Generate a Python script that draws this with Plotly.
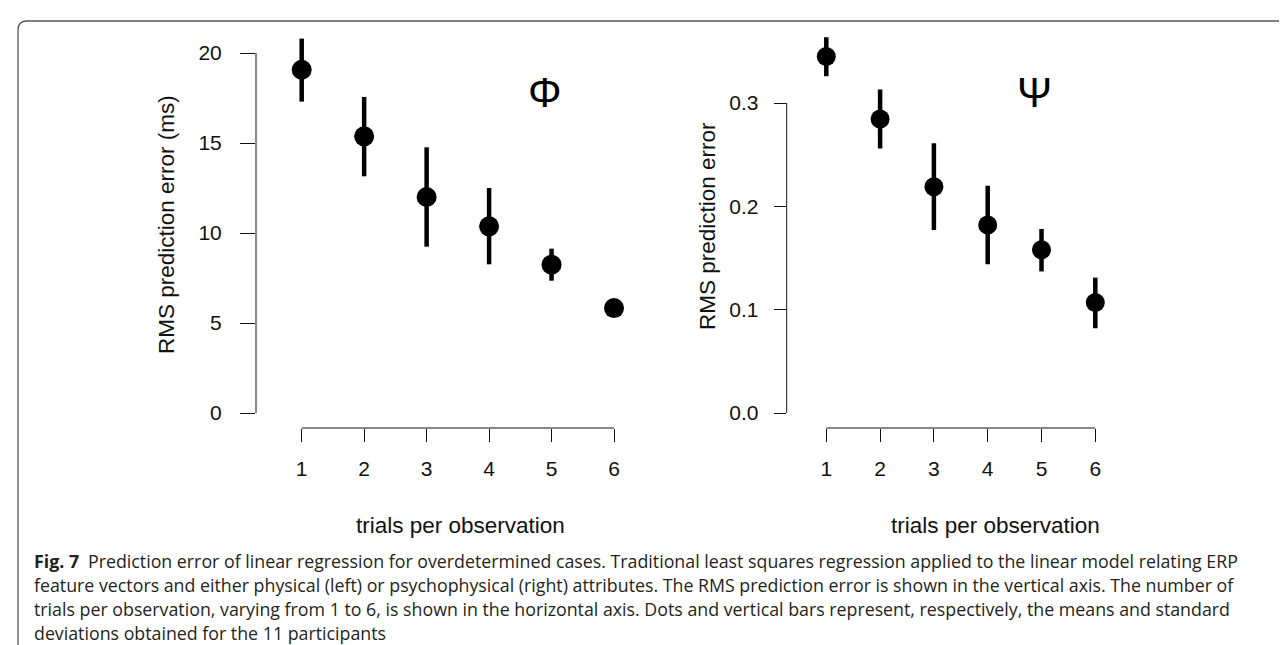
import plotly.graph_objects as go

# ---------------- data ----------------
trials = [1, 2, 3, 4, 5, 6]
phi_mean = [19.07, 15.37, 12.0, 10.37, 8.24, 5.83]
phi_upper = [20.8, 17.56, 14.76, 12.5, 9.13, 6.1]
phi_lower = [17.3, 13.15, 9.24, 8.26, 7.35, 5.55]
psi_mean = [0.345, 0.2845, 0.219, 0.182, 0.158, 0.107]
psi_upper = [0.3636, 0.313, 0.261, 0.220, 0.178, 0.131]
psi_lower = [0.326, 0.256, 0.177, 0.144, 0.137, 0.082]
phi_ticks = [0, 5, 10, 15, 20]
psi_ticks = [0.0, 0.1, 0.2, 0.3]
psi_ticktext = ["0.0", "0.1", "0.2", "0.3"]
x_title = "trials per observation"
y_title_left = "RMS prediction error (ms)"
y_title_right = "RMS prediction error"
caption_lines = [
    "<b>Fig. 7</b>\u2002Prediction error of linear regression for overdetermined cases. Traditional least squares regression applied to the linear model relating ERP",
    "feature vectors and either physical (left) or psychophysical (right) attributes. The RMS prediction error is shown in the vertical axis. The number of",
    "trials per observation, varying from 1 to 6, is shown in the horizontal axis. Dots and vertical bars represent, respectively, the means and standard",
    "deviations obtained for the 11 participants",
]

W, H = 1287, 645
def px(x):
    return x / W
def py(y):
    return 1 - y / H

AX_FONT = dict(family="Liberation Sans, Arial, sans-serif", size=21, color="#111")
TITLE_FONT = dict(family="Liberation Sans, Arial, sans-serif", size=22.5, color="#111")
CAP_FONT = dict(family="Open Sans, Noto Sans, sans-serif", size=17.8, color="#231f20")

fig = go.Figure()

def err(mean, up, lo):
    return [u - m for u, m in zip(up, mean)], [m - l for m, l in zip(mean, lo)]

e_up, e_lo = err(phi_mean, phi_upper, phi_lower)
fig.add_trace(go.Scatter(
    x=trials, y=phi_mean, mode="markers", xaxis="x", yaxis="y",
    marker=dict(size=20, color="black"),
    error_y=dict(type="data", symmetric=False, array=e_up, arrayminus=e_lo,
                 width=0, thickness=4.5, color="black"),
    showlegend=False,
))
e_up2, e_lo2 = err(psi_mean, psi_upper, psi_lower)
fig.add_trace(go.Scatter(
    x=trials, y=psi_mean, mode="markers", xaxis="x2", yaxis="y2",
    marker=dict(size=19, color="black"),
    error_y=dict(type="data", symmetric=False, array=e_up2, arrayminus=e_lo2,
                 width=0, thickness=4.5, color="black"),
    showlegend=False,
))

common_x = dict(showgrid=False, zeroline=False, showline=False, ticks="outside",
                ticklen=13, tickwidth=1, tickcolor="#111", tickfont=AX_FONT,
                tickvals=trials, ticklabelstandoff=9, fixedrange=True)
common_y = dict(showgrid=False, zeroline=False, showline=False, ticks="outside",
                tickwidth=1, tickcolor="#111", tickfont=AX_FONT, fixedrange=True)

Lx0, Lx1 = 248, 620
Rx0, Rx1 = 778.7, 1100
Ytop, Ybot = 15, 420

def xrange(p0, p1, px1, px6):
    s = (px6 - px1) / 5.0
    return [1 - (px1 - p0) / s, 6 + (p1 - px6) / s]

def yrange(t, b, v0px, vtop, vtoppx):
    s = (v0px - vtoppx) / vtop
    return [-(b - v0px) / s, (v0px - t) / s]

fig.update_layout(
    xaxis=dict(domain=[px(Lx0), px(Lx1)], range=xrange(Lx0, Lx1, 293.7, 606),
               anchor="y", **common_x),
    yaxis=dict(domain=[py(Ybot), py(Ytop)], range=yrange(Ytop, Ybot, 405, 20, 45),
               anchor="x", tickvals=phi_ticks, ticklen=15, ticklabelstandoff=14, **common_y),
    xaxis2=dict(domain=[px(Rx0), px(Rx1)], range=xrange(Rx0, Rx1, 818.3, 1087.3),
                anchor="y2", **common_x),
    yaxis2=dict(domain=[py(Ybot), py(Ytop)], range=yrange(Ytop, Ybot, 405, 0.3, 95),
                anchor="x2", tickvals=psi_ticks, ticktext=psi_ticktext, ticklen=12,
                ticklabelstandoff=11, **common_y),
    width=W, height=H, margin=dict(l=0, r=0, t=0, b=0, pad=0),
    paper_bgcolor="white", plot_bgcolor="white",
)

shapes = []
shapes.append(dict(type="line", xref="paper", yref="y", x0=px(Lx0), x1=px(Lx0),
                   y0=phi_ticks[0], y1=phi_ticks[-1], line=dict(color="#111", width=1)))
shapes.append(dict(type="line", xref="x", yref="paper", x0=trials[0], x1=trials[-1],
                   y0=py(Ybot), y1=py(Ybot), line=dict(color="#111", width=1)))
shapes.append(dict(type="line", xref="paper", yref="y2", x0=px(Rx0), x1=px(Rx0),
                   y0=psi_ticks[0], y1=psi_ticks[-1], line=dict(color="#111", width=1)))
shapes.append(dict(type="line", xref="x2", yref="paper", x0=trials[0], x1=trials[-1],
                   y0=py(Ybot), y1=py(Ybot), line=dict(color="#111", width=1)))
path = "M {a},{b} L {a},{c} Q {a},{d} {e},{d} L {f},{d}".format(
    a=px(10), b=py(646), c=py(22), d=py(13), e=px(19), f=px(1290))
shapes.append(dict(type="path", xref="paper", yref="paper", path=path,
                   line=dict(color="#555", width=1.3)))
fig.update_layout(shapes=shapes)

ann = []
ann.append(dict(text="Φ", x=4.89, y=17.8, xref="x", yref="y", showarrow=False,
                xanchor="center", yanchor="middle",
                font=dict(family="Liberation Sans, Arial", size=42, color="black")))
ann.append(dict(text="Ψ", x=4.87, y=0.31, xref="x2", yref="y2", showarrow=False,
                xanchor="center", yanchor="middle",
                font=dict(family="Liberation Sans, Arial", size=42, color="black")))
ann.append(dict(text=y_title_left, x=px(158), y=py(217), xref="paper", yref="paper",
                xanchor="center", yanchor="middle",
                textangle=-90, showarrow=False, font=TITLE_FONT))
ann.append(dict(text=y_title_right, x=px(699), y=py(218), xref="paper", yref="paper",
                xanchor="center", yanchor="middle",
                textangle=-90, showarrow=False, font=TITLE_FONT))
ann.append(dict(text=x_title, x=px(452), y=py(517), xref="paper", yref="paper",
                xanchor="center", yanchor="middle", showarrow=False, font=TITLE_FONT))
ann.append(dict(text=x_title, x=px(988), y=py(517), xref="paper", yref="paper",
                xanchor="center", yanchor="middle", showarrow=False, font=TITLE_FONT))
cap_y = [553, 577, 601, 625]
for line, yy in zip(caption_lines, cap_y):
    ann.append(dict(text=line, x=px(24), y=py(yy), xref="paper", yref="paper",
                    xanchor="left", yanchor="middle", showarrow=False, font=CAP_FONT))
fig.update_layout(annotations=ann)

fig.write_html("out.html")
